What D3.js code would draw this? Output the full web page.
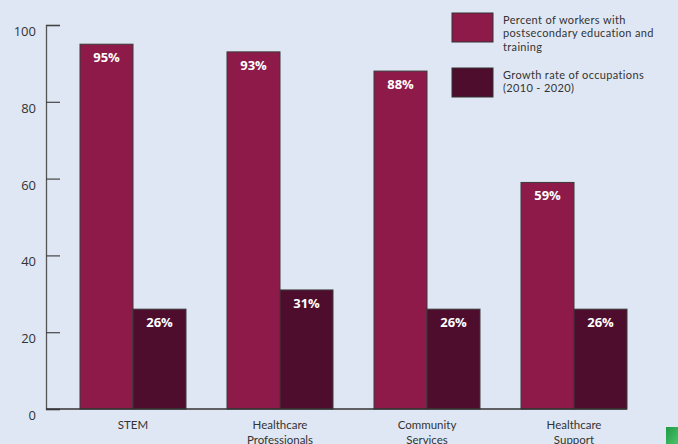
<!DOCTYPE html>
<html><head><meta charset="utf-8">
<script src="https://cdn.jsdelivr.net/npm/d3@7"></script>
<style>
html,body{margin:0;padding:0;background:#e0e7f4;}
svg{display:block;}
text{font-family:"Open Sans","DejaVu Sans",sans-serif;}
</style></head>
<body>
<svg id="chart" width="678" height="444"></svg>
<script>
const categories = [["STEM"], ["Healthcare","Professionals"], ["Community","Services"], ["Healthcare","Support"]];
const categoryKeys = ["STEM","Healthcare Professionals","Community Services","Healthcare Support"];
const postsecondary = [95, 93, 88, 59];
const growth = [26, 31, 26, 26];
const seriesNames = ["Percent of workers with postsecondary education and training", "Growth rate of occupations (2010 - 2020)"];
const legendLines = [["Percent of workers with","postsecondary education and","training"],["Growth rate of occupations","(2010 - 2020)"]];
const yTicks = [0, 20, 40, 60, 80, 100];
const colors = ["#8d1a49", "#4e0d2d"];

const svg = d3.select("#chart");
svg.append("rect").attr("width",678).attr("height",444).attr("fill","#e0e7f4");

const y = d3.scaleLinear().domain([0,100]).range([409,25]);
const x0 = d3.scaleBand().domain(categoryKeys).range([46,661]).paddingInner(0.2789).paddingOuter(0.2313);
const x1 = d3.scaleBand().domain([0,1]).range([0,x0.bandwidth()]);

// y axis
const yAxis = d3.axisRight(y).tickValues(yTicks).tickSize(14).tickFormat("");
const yg = svg.append("g").attr("transform","translate(46,0)").call(yAxis);
yg.select(".domain").attr("stroke","#555").attr("stroke-width",1.3);
yg.selectAll(".tick line").attr("stroke","#444").attr("stroke-width",1.2);
svg.append("g").selectAll("text").data(yTicks).join("text")
  .attr("x",36).attr("y",d=>y(d)+11).attr("text-anchor","end")
  .attr("font-size",13).attr("fill","#333").text(d=>d);

// bars
const data = categoryKeys.map((k,i)=>({key:k, vals:[postsecondary[i], growth[i]], lines:categories[i]}));
const groups = svg.append("g").selectAll("g").data(data).join("g")
  .attr("transform",d=>`translate(${x0(d.key)},0)`);
groups.selectAll("rect").data(d=>d.vals.map((v,j)=>({v,j}))).join("rect")
  .attr("x",d=>x1(d.j)).attr("width",x1.bandwidth())
  .attr("y",d=>y(d.v)).attr("height",d=>y(0)-y(d.v))
  .attr("fill",d=>colors[d.j]).attr("stroke","#3a3a3a").attr("stroke-width",1);
groups.selectAll("text.val").data(d=>d.vals.map((v,j)=>({v,j}))).join("text")
  .attr("class","val")
  .attr("x",d=>x1(d.j)+x1.bandwidth()/2).attr("y",d=>y(d.v)+18)
  .attr("text-anchor","middle").attr("font-size",13).attr("font-weight","bold")
  .attr("fill","#fff").text(d=>d.v+"%");

// x axis line
svg.append("line").attr("x1",46).attr("x2",627).attr("y1",409).attr("y2",409)
  .attr("stroke","#333").attr("stroke-width",1.3);

// x labels
groups.each(function(d){
  const g = d3.select(this);
  d.lines.forEach((l,i)=>{
    g.append("text").attr("text-anchor","middle")
      .style("font-family","Lato, 'Open Sans', sans-serif")
      .attr("font-size",11.5).attr("fill","#333")
      .attr("x",x0.bandwidth()/2).attr("y",429+i*14.5).text(l);
  });
});

// legend
const lg = svg.append("g");
const legendY = [13, 68];
legendLines.forEach((lines,i)=>{
  lg.append("rect").attr("x",452).attr("y",legendY[i]).attr("width",41).attr("height",29)
    .attr("fill",colors[i]).attr("stroke","#333").attr("stroke-width",1);
  lines.forEach((l,k)=>{
    lg.append("text")
      .style("font-family","Lato, 'Open Sans', sans-serif")
      .style("letter-spacing","0.35px")
      .attr("font-size",11).attr("fill","#333")
      .attr("x",503).attr("y",legendY[i]+11+k*13.3).text(l);
  });
});

// decorative green square
const defs = svg.append("defs");
const grad = defs.append("linearGradient").attr("id","gg").attr("x1","0").attr("y1","0").attr("x2","1").attr("y2","1");
grad.append("stop").attr("offset","0").attr("stop-color","#1f9a45");
grad.append("stop").attr("offset","1").attr("stop-color","#4cc36a");
svg.append("rect").attr("x",666).attr("y",427).attr("width",12).attr("height",17).attr("fill","url(#gg)");
</script>
</body></html>
